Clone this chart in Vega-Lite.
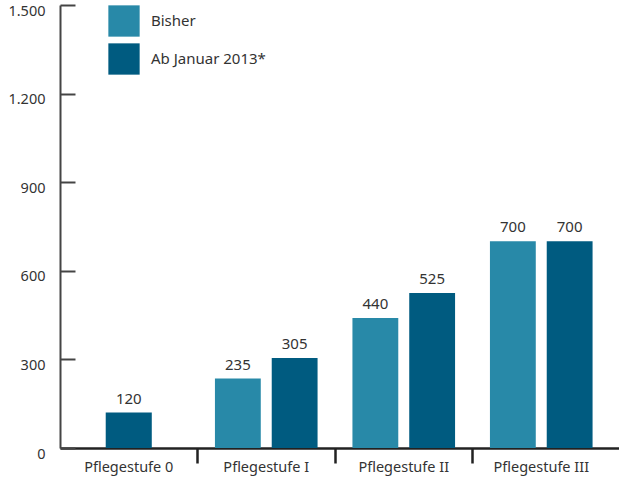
{
  "$schema": "https://vega.github.io/schema/vega-lite/v6.json",
  "width": 559,
  "height": 443,
  "autosize": {"type": "none"},
  "padding": {"left": 60, "top": 5, "right": 0, "bottom": 32},
  "config": {
    "font": "Noto Sans",
    "view": {"stroke": null},
    "axis": {"labelColor": "#333333", "labelFontSize": 14.5, "labelFont": "Noto Sans", "grid": false, "title": null}
  },
  "data": {
    "values": [
      {"stufe": "Pflegestufe 0", "serie": "Ab Januar 2013*", "wert": 120},
      {"stufe": "Pflegestufe I", "serie": "Bisher", "wert": 235},
      {"stufe": "Pflegestufe I", "serie": "Ab Januar 2013*", "wert": 305},
      {"stufe": "Pflegestufe II", "serie": "Bisher", "wert": 440},
      {"stufe": "Pflegestufe II", "serie": "Ab Januar 2013*", "wert": 525},
      {"stufe": "Pflegestufe III", "serie": "Bisher", "wert": 700},
      {"stufe": "Pflegestufe III", "serie": "Ab Januar 2013*", "wert": 700}
    ]
  },
  "encoding": {
    "x": {
      "field": "stufe",
      "type": "nominal",
      "sort": ["Pflegestufe 0", "Pflegestufe I", "Pflegestufe II", "Pflegestufe III"],
      "scale": {"paddingInner": 0, "paddingOuter": 0.0327, "align": 0},
      "axis": {
        "bandPosition": 0,
        "labelAngle": 0,
        "labelPadding": -3,
        "labelBaseline": "top",
        "domainColor": "#222222",
        "domainWidth": 2.5,
        "tickColor": "#222222",
        "tickWidth": 2.5,
        "tickSize": 15,
        "tickOpacity": {"condition": {"test": "datum.value === 'Pflegestufe 0'", "value": 0}, "value": 1}
      }
    },
    "y": {
      "field": "wert",
      "type": "quantitative",
      "scale": {"domain": [0, 1500], "nice": false},
      "axis": {
        "values": [0, 300, 600, 900, 1200, 1500],
        "labelExpr": "replace(format(datum.value, ','), ',', '.')",
        "domainColor": "#444444",
        "domainWidth": 2,
        "tickColor": "#444444",
        "tickWidth": 2,
        "tickSize": -15,
        "labelPadding": 30,
        "labelOffset": 6
      }
    },
    "color": {
      "field": "serie",
      "type": "nominal",
      "scale": {"domain": ["Bisher", "Ab Januar 2013*"], "range": ["#2889a8", "#005b80"]},
      "legend": {
        "title": null,
        "orient": "none",
        "legendX": 48,
        "legendY": 0,
        "symbolType": "square",
        "symbolSize": 980,
        "symbolStrokeWidth": 0,
        "labelFontSize": 15,
        "labelColor": "#333333",
        "labelOffset": 11,
        "rowPadding": 6
      }
    }
  },
  "layer": [
    {
      "transform": [{"filter": "datum.stufe !== 'Pflegestufe 0'"}],
      "mark": {"type": "bar"},
      "encoding": {
        "xOffset": {"field": "serie", "type": "nominal", "sort": ["Bisher", "Ab Januar 2013*"], "scale": {"paddingInner": 0.193, "paddingOuter": 0.307}}
      }
    },
    {
      "transform": [{"filter": "datum.stufe !== 'Pflegestufe 0'"}],
      "mark": {"type": "text", "baseline": "bottom", "dy": -6, "fontSize": 15},
      "encoding": {
        "xOffset": {"field": "serie", "type": "nominal", "sort": ["Bisher", "Ab Januar 2013*"], "scale": {"paddingInner": 0.193, "paddingOuter": 0.307}},
        "text": {"field": "wert", "type": "quantitative"},
        "color": {"value": "#333333"}
      }
    },
    {
      "transform": [{"filter": "datum.stufe === 'Pflegestufe 0'"}],
      "mark": {"type": "bar", "width": {"band": 0.335}}
    },
    {
      "transform": [{"filter": "datum.stufe === 'Pflegestufe 0'"}],
      "mark": {"type": "text", "baseline": "bottom", "dy": -6, "fontSize": 15},
      "encoding": {
        "text": {"field": "wert", "type": "quantitative"},
        "color": {"value": "#333333"}
      }
    }
  ]
}
